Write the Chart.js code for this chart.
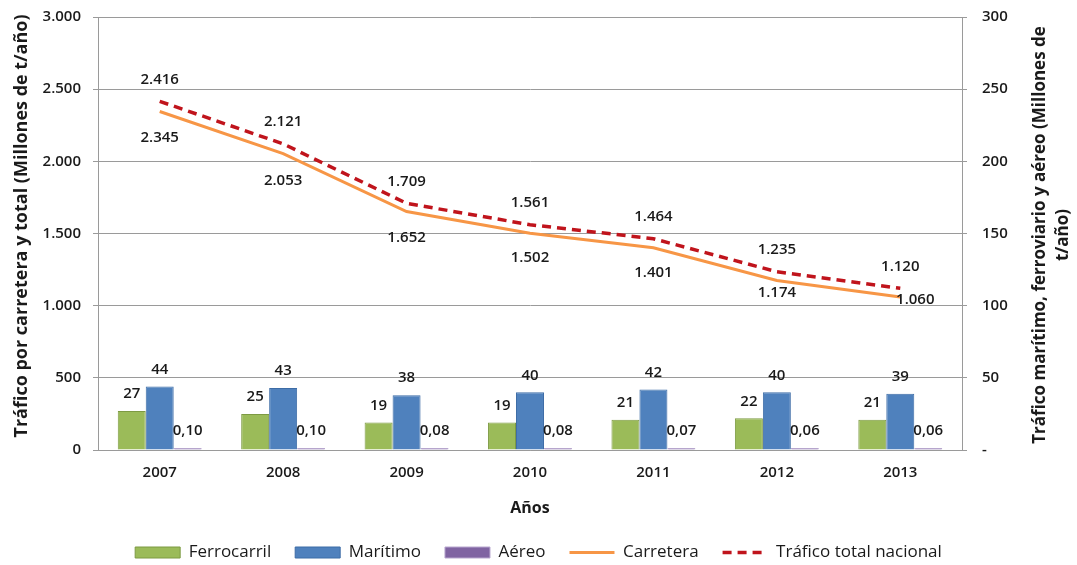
<!DOCTYPE html>
<html>
<head>
<meta charset="utf-8">
<title>Tráfico nacional de mercancías</title>
<script src="https://cdn.jsdelivr.net/npm/chart.js@4.4.0/dist/chart.umd.min.js"></script>
<style>
  html, body { margin: 0; padding: 0; background: #fff; }
  #wrap { width: 1077px; height: 565px; position: relative; }
</style>
</head>
<body>
<div id="wrap"><canvas id="trafficChart"></canvas></div>
<script>
// categories
var years = ['2007', '2008', '2009', '2010', '2011', '2012', '2013'];

// right axis series (millones de t/año)
var ferrocarril = [27, 25, 19, 19, 21, 22, 21];
var maritimo = [44, 43, 38, 40, 42, 40, 39];
var aereo = [0.10, 0.10, 0.08, 0.08, 0.07, 0.06, 0.06];

// left axis series (millones de t/año)
var carretera = [2345, 2053, 1652, 1502, 1401, 1174, 1060];
var traficoTotal = [2416, 2121, 1709, 1561, 1464, 1235, 1120];

// tick labels
var leftTicks = [0, 500, 1000, 1500, 2000, 2500, 3000];
var rightTicks = [0, 50, 100, 150, 200, 250, 300];

var fontFamily = '"Open Sans", Lato, sans-serif';
var gridColor = '#9a9a9a';
var textColor = '#1a1a1a';

// spanish number format: 2.345 / 0,10
function fmtNumber(v, decimals) {
    var s = v.toFixed(decimals || 0);
    var parts = s.split('.');
    parts[0] = parts[0].replace(/\B(?=(\d{3})+(?!\d))/g, '.');
    return parts.length > 1 ? parts[0] + ',' + parts[1] : parts[0];
}

// label nudges for the "Carretera" labels (placed by hand in the original)
var carreteraLabelShift = [[0, 26], [0, 27], [0, 26], [0, 25], [0, 25], [0, 12], [15, 3]];

var valueLabels = {
    id: 'valueLabels',
    afterDatasetsDraw: function (chart) {
        var ctx = chart.ctx;
        ctx.save();
        ctx.font = '600 15px ' + fontFamily;
        ctx.fillStyle = textColor;
        ctx.textAlign = 'center';
        ctx.textBaseline = 'middle';
        chart.data.datasets.forEach(function (ds, i) {
            var meta = chart.getDatasetMeta(i);
            meta.data.forEach(function (el, j) {
                var v = ds.data[j];
                var x = el.x, y = el.y;
                if (ds.type === 'line') {
                    if (ds.label === 'Carretera') {
                        x += carreteraLabelShift[j][0];
                        y += carreteraLabelShift[j][1];
                    } else {
                        y -= 22;
                    }
                    ctx.fillText(fmtNumber(v), x, y);
                } else {
                    ctx.fillText(fmtNumber(v, ds.decimals), x, y - 17);
                }
            });
        });
        ctx.restore();
    },
    afterDraw: function (chart) {
        // both axis titles read bottom-to-top
        var ctx = chart.ctx;
        ctx.save();
        ctx.fillStyle = textColor;
        ctx.textAlign = 'center';
        ctx.textBaseline = 'middle';

        ctx.save();
        ctx.font = 'bold 18px ' + fontFamily;
        ctx.translate(22, 226);
        ctx.rotate(-Math.PI / 2);
        ctx.fillText('Tráfico por carretera y total (Millones de t/año)', 0, 0);
        ctx.restore();

        ctx.font = 'bold 17px ' + fontFamily;
        ctx.translate(1040, 235);
        ctx.rotate(-Math.PI / 2);
        ctx.fillText('Tráfico marítimo, ferroviario y aéreo (Millones de', 0, 0);
        ctx.fillText('t/año)', 0, 23);
        ctx.restore();
    }
};

// keep the plot area flush with the layout padding
function trimPadding(scale) {
    scale.paddingTop = 8;
    scale.paddingBottom = 8;
}

var ctx = document.getElementById('trafficChart').getContext('2d');

var trafficChart = new Chart(ctx, {
    type: 'bar',
    data: {
        labels: years,
        datasets: [{
            label: 'Ferrocarril',
            data: ferrocarril,
            yAxisID: 'y2',
            backgroundColor: '#9bbb59',
            borderColor: '#7d9a43',
            borderWidth: 1
        }, {
            label: 'Marítimo',
            data: maritimo,
            yAxisID: 'y2',
            backgroundColor: '#4f81bd',
            borderColor: '#3d6ca6',
            borderWidth: 1
        }, {
            label: 'Aéreo',
            data: aereo,
            yAxisID: 'y2',
            decimals: 2,
            backgroundColor: '#8064a2',
            borderColor: '#b8a7cf',
            borderWidth: 1,
            minBarLength: 2
        }, {
            type: 'line',
            label: 'Carretera',
            data: carretera,
            yAxisID: 'y',
            borderColor: '#f79646',
            backgroundColor: '#f79646',
            borderWidth: 3,
            pointRadius: 0,
            tension: 0,
            fill: false
        }, {
            type: 'line',
            label: 'Tráfico total nacional',
            data: traficoTotal,
            yAxisID: 'y',
            borderColor: '#c0141c',
            backgroundColor: '#c0141c',
            borderWidth: 3.5,
            borderDash: [9, 6],
            pointRadius: 0,
            tension: 0,
            fill: false
        }]
    },
    options: {
        responsive: true,
        maintainAspectRatio: false,
        animation: false,
        layout: { padding: { top: 17, left: 0, right: 0, bottom: -6 } },
        datasets: {
            bar: { categoryPercentage: 0.68, barPercentage: 1.0 }
        },
        plugins: {
            tooltip: { enabled: false },
            legend: {
                position: 'bottom',
                labels: {
                    usePointStyle: true,
                    pointStyleWidth: 45,
                    boxHeight: 11,
                    padding: 24,
                    color: textColor,
                    font: { family: fontFamily, size: 17 },
                    sort: function (a, b) { return a.datasetIndex - b.datasetIndex; },
                    generateLabels: function (chart) {
                        var items = Chart.defaults.plugins.legend.labels.generateLabels(chart);
                        items.forEach(function (it) {
                            var ds = chart.data.datasets[it.datasetIndex];
                            if (ds.type === 'line') {
                                it.pointStyle = 'line';
                                it.lineWidth = ds.borderWidth;
                                it.strokeStyle = ds.borderColor;
                                it.lineDash = ds.borderDash || [];
                            } else {
                                it.pointStyle = 'rect';
                                it.fillStyle = ds.backgroundColor;
                                it.strokeStyle = ds.borderColor;
                                it.lineWidth = 1;
                            }
                        });
                        return items;
                    }
                }
            }
        },
        scales: {
            x: {
                grid: { display: false },
                border: { display: true, color: gridColor, width: 1 },
                ticks: { color: textColor, font: { family: fontFamily, size: 15, weight: '600' }, padding: 6 },
                title: {
                    display: true,
                    text: 'Años',
                    color: textColor,
                    font: { family: fontFamily, size: 16, weight: 'bold' },
                    padding: { top: 4, bottom: 2 }
                },
                afterFit: function (scale) { scale.height = 70; }
            },
            y: {
                position: 'left',
                min: 0,
                max: 3000,
                afterBuildTicks: function (scale) {
                    scale.ticks = leftTicks.map(function (v) { return { value: v }; });
                },
                grid: { color: gridColor, tickLength: 5, drawTicks: true },
                border: { display: true, color: gridColor },
                ticks: {
                    color: textColor,
                    padding: 12,
                    font: { family: fontFamily, size: 15, weight: '600' },
                    callback: function (v) { return fmtNumber(v); }
                },
                afterFit: function (scale) {
                    scale.width = 98;
                    trimPadding(scale);
                }
            },
            y2: {
                position: 'right',
                min: 0,
                max: 300,
                afterBuildTicks: function (scale) {
                    scale.ticks = rightTicks.map(function (v) { return { value: v }; });
                },
                grid: { drawOnChartArea: false, color: gridColor, tickLength: 5, drawTicks: true },
                border: { display: true, color: gridColor },
                ticks: {
                    color: textColor,
                    padding: 15,
                    font: { family: fontFamily, size: 15, weight: '600' },
                    callback: function (v) { return v === 0 ? '-' : v; }
                },
                afterFit: function (scale) {
                    scale.width = 115;
                    trimPadding(scale);
                }
            }
        }
    },
    plugins: [valueLabels]
});
</script>
</body>
</html>
